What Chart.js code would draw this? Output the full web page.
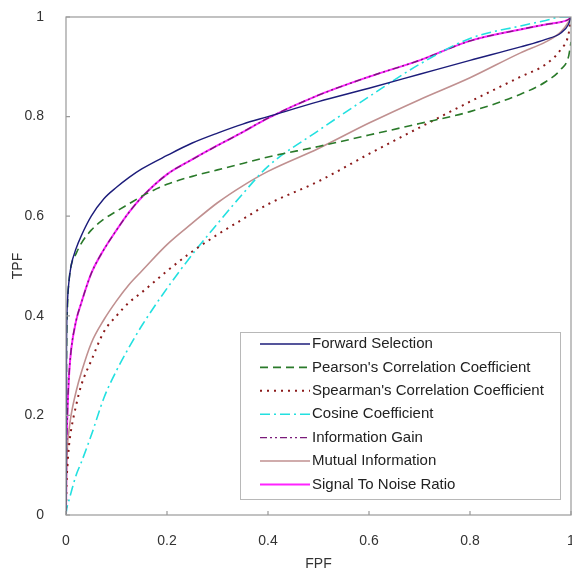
<!DOCTYPE html>
<html>
<head>
<meta charset="utf-8">
<script src="https://cdn.jsdelivr.net/npm/chart.js@4.4.1/dist/chart.umd.min.js"></script>
<style>
  html, body { margin: 0; padding: 0; background: #fff; }
  #wrap { width: 572px; height: 570px; }
</style>
</head>
<body>
<div id="wrap"><canvas id="rocChart" width="572" height="570"></canvas></div>
<script>
// false positive fraction grid shared by every curve
var fpf = [0, 0.001, 0.003, 0.006, 0.01, 0.02, 0.03, 0.05, 0.075, 0.1, 0.125, 0.15, 0.2, 0.25, 0.3, 0.35, 0.4, 0.5, 0.6, 0.7, 0.8, 0.9, 0.95, 0.98, 0.995, 1];

// true positive fraction per method
var forwardSelection = [0, 0.33, 0.43, 0.47, 0.5, 0.535, 0.56, 0.6, 0.635, 0.658, 0.678, 0.695, 0.722, 0.747, 0.767, 0.785, 0.8, 0.83, 0.857, 0.885, 0.913, 0.94, 0.955, 0.968, 0.985, 1];
var pearson = [0, 0.3, 0.42, 0.47, 0.5, 0.525, 0.545, 0.572, 0.594, 0.61, 0.625, 0.64, 0.664, 0.68, 0.693, 0.706, 0.719, 0.74, 0.763, 0.786, 0.81, 0.845, 0.87, 0.895, 0.92, 0.95];
var spearman = [0, 0.06, 0.1, 0.14, 0.17, 0.22, 0.26, 0.31, 0.368, 0.4, 0.427, 0.447, 0.49, 0.529, 0.563, 0.594, 0.624, 0.67, 0.725, 0.778, 0.83, 0.88, 0.905, 0.935, 0.965, 1];
var cosine = [0, 0.01, 0.02, 0.03, 0.045, 0.08, 0.105, 0.16, 0.235, 0.29, 0.337, 0.38, 0.455, 0.523, 0.585, 0.645, 0.7, 0.772, 0.84, 0.905, 0.957, 0.982, 0.993, 1, 1, 1];
var infoGain = [0, 0.12, 0.21, 0.28, 0.33, 0.39, 0.425, 0.485, 0.533, 0.572, 0.608, 0.638, 0.684, 0.714, 0.742, 0.769, 0.797, 0.843, 0.88, 0.913, 0.952, 0.975, 0.985, 0.99, 0.995, 1];
var mutualInfo = [0, 0.08, 0.14, 0.17, 0.2, 0.248, 0.285, 0.345, 0.392, 0.43, 0.463, 0.49, 0.543, 0.586, 0.627, 0.661, 0.69, 0.736, 0.787, 0.834, 0.878, 0.928, 0.95, 0.97, 0.99, 1];
var signalNoise = [0, 0.12, 0.21, 0.28, 0.33, 0.39, 0.425, 0.485, 0.533, 0.572, 0.608, 0.638, 0.684, 0.714, 0.742, 0.769, 0.797, 0.843, 0.88, 0.913, 0.952, 0.975, 0.985, 0.99, 0.995, 1];

var seriesNames = ["Forward Selection", "Pearson's Correlation Coefficient", "Spearman's Correlation Coefficient", "Cosine Coefficient", "Information Gain", "Mutual Information", "Signal To Noise Ratio"];
var seriesValues = [forwardSelection, pearson, spearman, cosine, infoGain, mutualInfo, signalNoise];
var axisTicks = [0, 0.2, 0.4, 0.6, 0.8, 1];

var styles = [
    { color: "#1c1c7a", dash: [], width: 1.4 },
    { color: "#2a7a2a", dash: [8, 5], width: 1.6 },
    { color: "#8b1a1a", dash: [2, 5], width: 2 },
    { color: "#22e0e0", dash: [10, 4, 2, 4], width: 1.6 },
    { color: "#7a1a7a", dash: [7, 3, 2, 3, 2, 3], width: 1.4 },
    { color: "#c09090", dash: [], width: 1.6 },
    { color: "#ff22ff", dash: [], width: 2 }
];

function toPoints(ys) {
    return ys.map(function (y, i) { return { x: fpf[i], y: y }; });
}

var datasets = seriesValues.map(function (ys, i) {
    return {
        label: seriesNames[i],
        data: toPoints(ys),
        borderColor: styles[i].color,
        backgroundColor: styles[i].color,
        borderDash: styles[i].dash,
        borderWidth: styles[i].width,
        pointRadius: 0,
        cubicInterpolationMode: "monotone",
        fill: false
    };
});

var FONT = "'Liberation Sans', Arial, sans-serif";

// box, inward ticks and the legend inside the plot
var framePlugin = {
    id: "frame",
    afterDraw: function (chart) {
        var c = chart.ctx, a = chart.chartArea;
        var xs = chart.scales.x, ys = chart.scales.y;
        c.save();
        c.strokeStyle = "#999";
        c.lineWidth = 1.2;
        c.setLineDash([]);
        c.strokeRect(a.left, a.top, a.right - a.left, a.bottom - a.top);
        c.beginPath();
        axisTicks.forEach(function (t) {
            var px = xs.getPixelForValue(t);
            c.moveTo(px, a.bottom); c.lineTo(px, a.bottom - 4);
            var py = ys.getPixelForValue(t);
            c.moveTo(a.left, py); c.lineTo(a.left + 4, py);
        });
        c.stroke();

        // legend
        var lx = 240, ly = 332, lw = 320, lh = 167;
        c.fillStyle = "#fff";
        c.fillRect(lx, ly, lw, lh);
        c.strokeStyle = "#b8b8b8";
        c.lineWidth = 1;
        c.strokeRect(lx + 0.5, ly + 0.5, lw, lh);
        c.font = "15px " + FONT;
        c.textBaseline = "middle";
        c.fillStyle = "#222";
        chart.data.datasets.forEach(function (ds, i) {
            var y = 344 + i * 23.4;
            c.strokeStyle = ds.borderColor;
            c.lineWidth = ds.borderWidth;
            c.setLineDash(ds.borderDash);
            c.beginPath();
            c.moveTo(260, y); c.lineTo(310, y);
            c.stroke();
            c.fillText(ds.label, 312, y);
        });
        c.restore();
    }
};

function fixSize(key, size) {
    return function (scale) {
        scale[key] = size;
        scale.paddingLeft = 0; scale.paddingRight = 0;
        scale.paddingTop = 0; scale.paddingBottom = 0;
    };
}

function tickBuilder(s) {
    s.ticks = axisTicks.map(function (v) { return { value: v }; });
}
function tickText(v) {
    return String(v);
}

var ctx = document.getElementById("rocChart");
var rocChart = new Chart(ctx, {
    type: "line",
    data: { datasets: datasets },
    plugins: [framePlugin],
    options: {
        responsive: false,
        animation: false,
        layout: { padding: { top: 17, right: 1, left: 0, bottom: 0 } },
        plugins: {
            legend: { display: false },
            tooltip: { enabled: false }
        },
        scales: {
            x: {
                type: "linear",
                min: 0, max: 1,
                afterFit: fixSize("height", 55),
                afterBuildTicks: tickBuilder,
                grid: { display: false },
                border: { display: false },
                ticks: { color: "#333", padding: 10, maxRotation: 0, callback: tickText, font: { family: FONT, size: 14 } },
                title: { display: true, text: "FPF", color: "#333", padding: { top: 0, bottom: -3 }, font: { family: FONT, size: 14 } }
            },
            y: {
                type: "linear",
                min: 0, max: 1,
                afterFit: fixSize("width", 66),
                afterBuildTicks: tickBuilder,
                grid: { display: false },
                border: { display: false },
                ticks: { color: "#333", padding: 14, callback: tickText, font: { family: FONT, size: 14 } },
                title: { display: true, text: "TPF", color: "#333", padding: { top: 10, bottom: 0 }, font: { family: FONT, size: 14 } }
            }
        }
    }
});
</script>
</body>
</html>
